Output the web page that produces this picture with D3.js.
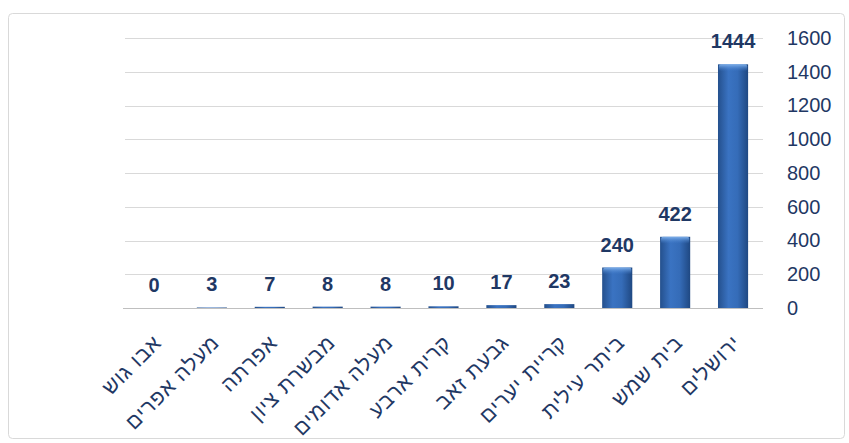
<!DOCTYPE html>
<html>
<head>
<meta charset="utf-8">
<script src="https://cdn.jsdelivr.net/npm/d3@7"></script>
<style>
  body { margin: 0; background: #fff; }
  svg { display: block; }
</style>
</head>
<body>
<div id="chart"></div>
<script>
// chart data
var towns = ["אבו גוש", "מעלה אפרים", "אפרתה", "מבשרת ציון", "מעלה אדומים", "קרית ארבע",
             "גבעת זאב", "קריית יערים", "ביתר עילית", "בית שמש", "ירושלים"];
var counts = [0, 3, 7, 8, 8, 10, 17, 23, 240, 422, 1444];
var yTicks = [0, 200, 400, 600, 800, 1000, 1200, 1400, 1600];

var width = 849, height = 443;
var margin = {top: 38, right: 86, bottom: 135, left: 125};

var svg = d3.select("#chart").append("svg")
    .attr("width", width)
    .attr("height", height);

// bar gradient
var defs = svg.append("defs");
var grad = defs.append("linearGradient").attr("id", "barGrad")
    .attr("x1", "0%").attr("x2", "100%").attr("y1", "0%").attr("y2", "0%");
grad.append("stop").attr("offset", "0%").attr("stop-color", "#24508d");
grad.append("stop").attr("offset", "35%").attr("stop-color", "#3a73c2");
grad.append("stop").attr("offset", "65%").attr("stop-color", "#356cb8");
grad.append("stop").attr("offset", "100%").attr("stop-color", "#1f4882");

var capGrad = defs.append("linearGradient").attr("id", "capGrad")
    .attr("x1", "0%").attr("x2", "0%").attr("y1", "0%").attr("y2", "100%");
capGrad.append("stop").attr("offset", "0%").attr("stop-color", "#7fb0ea");
capGrad.append("stop").attr("offset", "100%").attr("stop-color", "#3f7bcc").attr("stop-opacity", 0);

// outer frame
svg.append("rect")
    .attr("x", 8.5).attr("y", 13.5)
    .attr("width", 836).attr("height", 425)
    .attr("rx", 4)
    .attr("fill", "#fff")
    .attr("stroke", "#d9d9d9");

// scales
var x = d3.scaleBand()
    .domain(towns)
    .range([margin.left, width - margin.right - 1])
    .paddingInner(0.48)
    .paddingOuter(0.24);

var y = d3.scaleLinear()
    .domain([0, 1600])
    .range([height - margin.bottom, margin.top]);

// gridlines
svg.append("g")
    .selectAll("line")
    .data(yTicks.slice(1))
    .join("line")
    .attr("x1", margin.left)
    .attr("x2", width - margin.right)
    .attr("y1", function(d) { return Math.round(y(d)) + 0.5; })
    .attr("y2", function(d) { return Math.round(y(d)) + 0.5; })
    .attr("stroke", "#d9d9d9");

// right axis labels
var yAxis = d3.axisRight(y).tickValues(yTicks).tickFormat(d3.format("d"))
    .tickSize(0).tickPadding(24);
svg.append("g")
    .attr("transform", "translate(" + (width - margin.right) + ",0)")
    .call(yAxis)
    .call(function(g) { g.select(".domain").remove(); })
    .selectAll("text")
    .attr("font-family", "Liberation Sans, Arial, sans-serif")
    .attr("font-size", 20)
    .attr("fill", "#1f3864");

// bars
var bars = svg.append("g");
bars.selectAll("rect.bar")
    .data(counts)
    .join("rect")
    .attr("class", "bar")
    .attr("x", function(d, i) { return x(towns[i]); })
    .attr("y", function(d) { return y(d); })
    .attr("width", x.bandwidth())
    .attr("height", function(d) { return y(0) - y(d); })
    .attr("fill", "url(#barGrad)");

// top highlight on bars
bars.selectAll("rect.cap")
    .data(counts.filter(function(d) { return d > 50; }))
    .join("rect")
    .attr("class", "cap")
    .attr("x", function(d) { return x(towns[counts.indexOf(d)]) + 1; })
    .attr("y", function(d) { return y(d); })
    .attr("width", x.bandwidth() - 2)
    .attr("height", 7)
    .attr("rx", 2)
    .attr("fill", "url(#capGrad)");

// baseline
svg.append("line")
    .attr("x1", margin.left - 2)
    .attr("x2", width - margin.right)
    .attr("y1", Math.round(y(0)) + 0.5)
    .attr("y2", Math.round(y(0)) + 0.5)
    .attr("stroke", "#bfbfbf");

// value labels
svg.append("g")
    .selectAll("text")
    .data(counts)
    .join("text")
    .attr("x", function(d, i) { return x(towns[i]) + x.bandwidth() / 2; })
    .attr("y", function(d) { return y(d) - 16; })
    .attr("text-anchor", "middle")
    .attr("font-family", "Liberation Sans, Arial, sans-serif")
    .attr("font-weight", "bold")
    .attr("font-size", 20)
    .attr("fill", "#1f3864")
    .text(function(d) { return d; });

// category labels, rotated
svg.append("g")
    .selectAll("text")
    .data(towns)
    .join("text")
    .attr("transform", function(d) {
        var cx = x(d) + x.bandwidth() / 2 + 5;
        return "translate(" + cx + "," + (y(0) + 32) + ") rotate(-45)";
    })
    .attr("text-anchor", "end")
    .attr("dominant-baseline", "middle")
    .attr("font-family", "Liberation Sans, Arial, sans-serif")
    .attr("font-size", 21)
    .attr("letter-spacing", 1)
    .attr("fill", "#1f3864")
    .text(function(d) { return d; });
</script>
</body>
</html>
